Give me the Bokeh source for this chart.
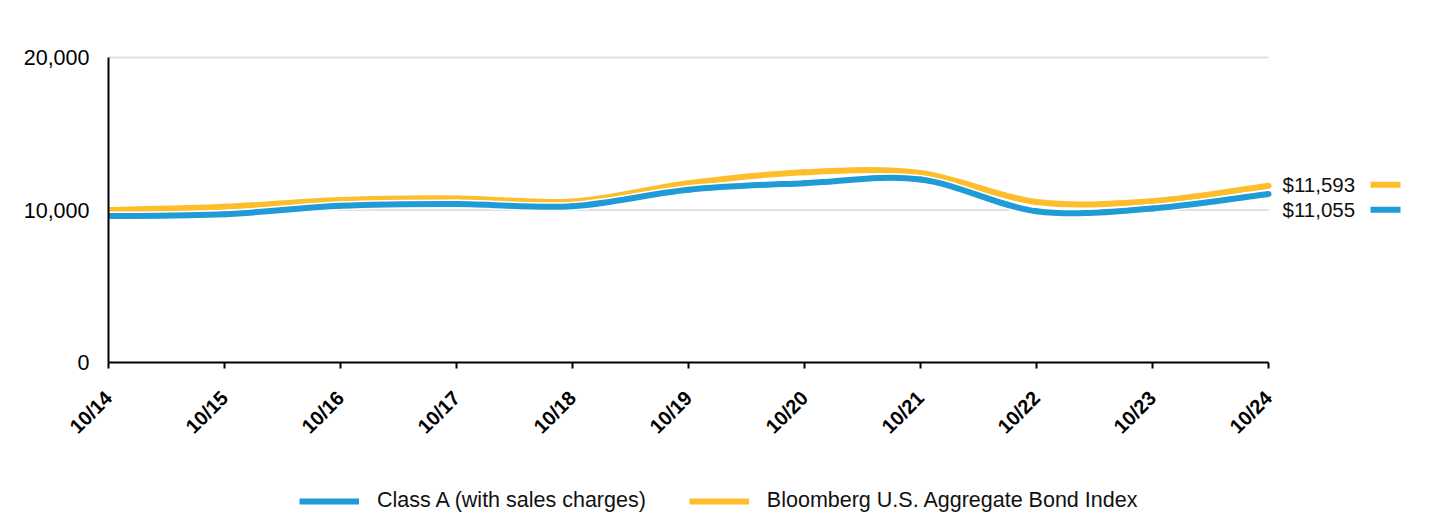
import math
from bokeh.plotting import figure
from bokeh.layouts import column
from bokeh.models import (Range1d, FixedTicker, NumeralTickFormatter, Legend, LegendItem)
from bokeh.core.properties import value
from bokeh.embed import file_html
from bokeh.resources import INLINE

# ---- data ----
periods = ["10/14", "10/15", "10/16", "10/17", "10/18", "10/19", "10/20", "10/21", "10/22", "10/23", "10/24"]
class_a = [9600, 9725, 10280, 10400, 10250, 11330, 11760, 12000, 9920, 10100, 11055]
bloomberg = [10000, 10210, 10660, 10760, 10560, 11760, 12480, 12430, 10520, 10580, 11593]
y_ticks = [0, 10000, 20000]
series_names = ["Class A (with sales charges)", "Bloomberg U.S. Aggregate Bond Index"]

BLUE = "#1f9bd7"
YELLOW = "#fdbe2b"
FONT = "Liberation Sans"

# ---- layout ----
W, H = 1440, 470
LEG_H = 46
left, right, top = 108, 4, 52
bottom = H - 362
frame_w = W - left - right
frame_h = H - top - bottom
data_w_px = 1160          # pixel width of the 10-year span
data_h_px = 305           # pixel height of 0..20,000
n = len(periods)
xs = list(range(n))
x_end = (n - 1) * frame_w / data_w_px
y_end = y_ticks[-1] * frame_h / data_h_px

p = figure(width=W, height=H, output_backend="svg", toolbar_location=None,
           x_range=Range1d(0, x_end), y_range=Range1d(0, y_end),
           min_border_left=left, min_border_right=right,
           min_border_top=top, min_border_bottom=bottom)
p.outline_line_color = None
p.xgrid.visible = False
p.ygrid.visible = False

# grid lines (bounded to data span)
gy = [v for v in y_ticks if v > 0]
p.segment(x0=[0] * len(gy), x1=[n - 1] * len(gy), y0=gy, y1=gy,
          line_color="#e0e0e0", line_width=2)


def bezier_src(ys):
    pts = list(zip(xs, ys))
    d = dict(x0=[], y0=[], x1=[], y1=[], cx0=[], cy0=[], cx1=[], cy1=[])
    for i in range(len(pts) - 1):
        p0 = pts[i - 1] if i > 0 else pts[i]
        p1 = pts[i]
        p2 = pts[i + 1]
        p3 = pts[i + 2] if i + 2 < len(pts) else pts[i + 1]
        d["x0"].append(p1[0]); d["y0"].append(p1[1])
        d["x1"].append(p2[0]); d["y1"].append(p2[1])
        d["cx0"].append(p1[0] + (p2[0] - p0[0]) / 6)
        d["cy0"].append(p1[1] + (p2[1] - p0[1]) / 6)
        d["cx1"].append(p2[0] - (p3[0] - p1[0]) / 6)
        d["cy1"].append(p2[1] - (p3[1] - p1[1]) / 6)
    return d


for ys, col in [(bloomberg, YELLOW), (class_a, BLUE)]:
    d = bezier_src(ys)
    p.bezier(line_color="white", line_width=9, line_cap="round", **d)
    p.bezier(line_color=col, line_width=6, line_cap="round", **d)

# end labels
gap = 1640
lab_y = [bloomberg[-1] + 60, bloomberg[-1] + 60 - gap]
lab_txt = [f"${bloomberg[-1]:,.0f}", f"${class_a[-1]:,.0f}"]
lx = (n - 1) + 14 / 116
p.text(x=[lx, lx], y=lab_y, text=lab_txt, text_align="left", text_baseline="middle",
       text_font=value(FONT), text_font_size="20.5px", text_color="#111111")
mx0 = (n - 1) + 102 / 116
mx1 = (n - 1) + 132 / 116
p.segment(x0=[mx0, mx0], x1=[mx1, mx1], y0=lab_y, y1=lab_y,
          line_color=[YELLOW, BLUE], line_width=6)

# axes
xa = p.xaxis[0]
xa.ticker = FixedTicker(ticks=xs)
xa.major_label_overrides = {i: s for i, s in enumerate(periods)}
xa.major_label_orientation = math.pi / 4
xa.major_label_text_font = FONT
xa.major_label_text_font_style = "bold"
xa.major_label_text_font_size = "20px"
xa.major_label_text_color = "#000000"
xa.major_tick_out = 6
xa.major_tick_in = 0
xa.minor_tick_out = 0
xa.minor_tick_in = 0
xa.major_tick_line_width = 2
xa.major_tick_line_color = "#000000"
xa.axis_line_width = 2
xa.axis_line_color = "#000000"
xa.major_label_standoff = 26
xa.bounds = (0, n - 1)

ya = p.yaxis[0]
ya.ticker = FixedTicker(ticks=y_ticks)
ya.formatter = NumeralTickFormatter(format="0,0")
ya.major_label_text_font = FONT
ya.major_label_text_font_size = "21.5px"
ya.major_label_text_color = "#000000"
ya.major_tick_out = 0
ya.major_tick_in = 0
ya.minor_tick_out = 0
ya.minor_tick_in = 0
ya.axis_line_width = 2
ya.axis_line_color = "#000000"
ya.major_label_standoff = 19
ya.bounds = (0, y_ticks[-1])

# ---- legend strip ----
pl = figure(width=W, height=LEG_H, output_backend="svg", toolbar_location=None,
            x_range=Range1d(0, 1), y_range=Range1d(0, 1),
            min_border=0, min_border_left=0, min_border_right=0,
            min_border_top=0, min_border_bottom=0)
pl.axis.visible = False
pl.grid.visible = False
pl.outline_line_color = None
r_blue = pl.line([0, 1], [0.5, 0.5], line_color=BLUE, line_width=6, visible=False)
r_yel = pl.line([0, 1], [0.5, 0.5], line_color=YELLOW, line_width=6, visible=False)
legend = Legend(items=[LegendItem(label=series_names[0], renderers=[r_blue]),
                       LegendItem(label=series_names[1], renderers=[r_yel])],
                orientation="horizontal", location=(191, 3),
                glyph_width=60, glyph_height=18, label_height=18,
                label_standoff=18, spacing=43, padding=0, margin=0,
                label_text_font=FONT, label_text_font_size="21.5px",
                label_text_color="#111111",
                border_line_color=None, background_fill_alpha=0)
pl.add_layout(legend, "center")

layout = column(p, pl, spacing=0)
open("out.html", "w").write(file_html(layout, INLINE))
